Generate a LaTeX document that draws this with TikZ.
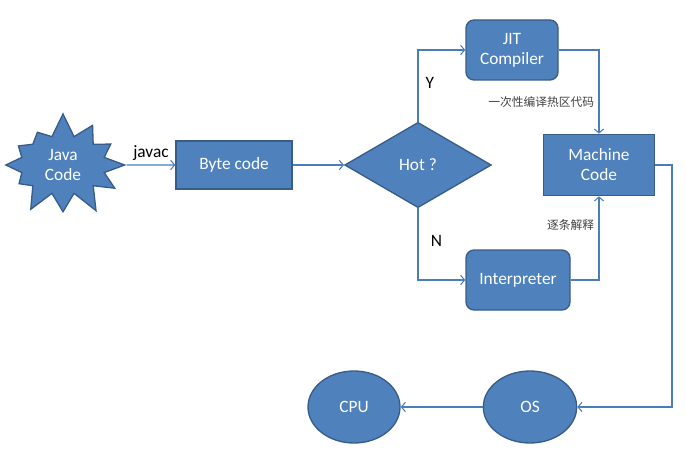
\documentclass[tikz,border=0pt]{standalone}
\usepackage{fontspec}
\setmainfont{Carlito}
\newfontfamily\cjk{Noto Sans CJK SC}
\usetikzlibrary{arrows.meta, shapes.geometric, shapes.symbols, positioning}

\definecolor{boxfill}{HTML}{4F81BD}
\definecolor{boxline}{HTML}{385D8A}
\definecolor{linkcol}{HTML}{4A7EBB}

\begin{document}
\begin{tikzpicture}[x=0.75pt, y=-0.75pt, font=\fontsize{13}{15}\selectfont,
    box/.style = {draw=boxline, fill=boxfill, text=white, line width=1pt, align=center, inner sep=0pt},
    arr/.style = {draw=linkcol, line width=0.8pt, -{Straight Barb[length=3pt, width=7pt]}},
    note/.style = {font=\cjk\fontsize{8.8}{10}\selectfont, text=black!75}]
    \useasboundingbox (0,0) rectangle (686,453);

    \node[box, starburst, starburst points=12, starburst point height=18pt, random starburst=7,
          minimum width=100pt, minimum height=80pt] (JC) at (63,165) {Java\\Code};
    \node[box, minimum width=87pt, minimum height=36pt] (BC) at (234,165) {Byte code};
    \node[box, diamond, minimum width=110pt, minimum height=64pt] (H) at (418,165) {Hot ?};
    \node[box, rounded corners=6pt, minimum width=69pt, minimum height=45pt] (JIT) at (512,50) {JIT\\Compiler};
    \node[box, minimum width=83pt, minimum height=46pt] (MC) at (599,165) {Machine\\Code};
    \node[box, rounded corners=6pt, minimum width=78pt, minimum height=45pt] (INT) at (518,280) {Interpreter};
    \node[box, ellipse, minimum width=70pt, minimum height=54pt] (OS) at (530,407) {OS};
    \node[box, ellipse, minimum width=69pt, minimum height=54pt] (CPU) at (354,407) {CPU};
    \coordinate (turn) at (672,407);

    \path[arr] (JC) edge node[above] {javac} (BC);
    \path[arr] (BC) edge (H);
    \draw[arr] (H) |- node[pos=0.27, right=2pt] {Y} (JIT);
    \draw[arr] (H) |- node[pos=0.23, right=6pt] {N} (INT);
    \draw[arr] (JIT) -| node[pos=0.81, left, note] {一次性编译热区代码} (MC);
    \draw[arr] (INT) -| node[pos=0.83, left, note] {逐条解释} (MC);
    \draw[arr] (MC.east) -| (turn) -- (OS);
    \path[arr] (OS) edge (CPU);
\end{tikzpicture}
\end{document}
